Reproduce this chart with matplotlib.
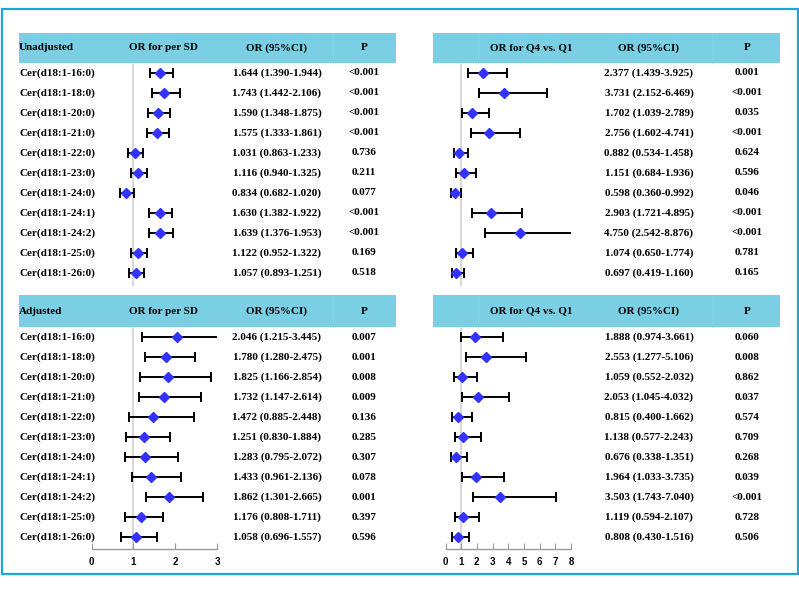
import matplotlib
matplotlib.use('Agg')
import matplotlib.pyplot as plt
import matplotlib.transforms as mtransforms
from matplotlib.patches import Rectangle
import numpy as np

# ---- data ----
names = ['Cer(d18:1-16:0)', 'Cer(d18:1-18:0)', 'Cer(d18:1-20:0)', 'Cer(d18:1-21:0)',
         'Cer(d18:1-22:0)', 'Cer(d18:1-23:0)', 'Cer(d18:1-24:0)', 'Cer(d18:1-24:1)',
         'Cer(d18:1-24:2)', 'Cer(d18:1-25:0)', 'Cer(d18:1-26:0)']

# unadjusted, per SD
un_sd_or = [1.644, 1.743, 1.590, 1.575, 1.031, 1.116, 0.834, 1.630, 1.639, 1.122, 1.057]
un_sd_lo = [1.390, 1.442, 1.348, 1.333, 0.863, 0.940, 0.682, 1.382, 1.376, 0.952, 0.893]
un_sd_hi = [1.944, 2.106, 1.875, 1.861, 1.233, 1.325, 1.020, 1.922, 1.953, 1.322, 1.251]
un_sd_p = ['<0.001', '<0.001', '<0.001', '<0.001', '0.736', '0.211', '0.077',
           '<0.001', '<0.001', '0.169', '0.518']

# unadjusted, Q4 vs Q1
un_q_or = [2.377, 3.731, 1.702, 2.756, 0.882, 1.151, 0.598, 2.903, 4.750, 1.074, 0.697]
un_q_lo = [1.439, 2.152, 1.039, 1.602, 0.534, 0.684, 0.360, 1.721, 2.542, 0.650, 0.419]
un_q_hi = [3.925, 6.469, 2.789, 4.741, 1.458, 1.936, 0.992, 4.895, 8.876, 1.774, 1.160]
un_q_p = ['0.001', '<0.001', '0.035', '<0.001', '0.624', '0.596', '0.046',
          '<0.001', '<0.001', '0.781', '0.165']

# adjusted, per SD
ad_sd_or = [2.046, 1.780, 1.825, 1.732, 1.472, 1.251, 1.283, 1.433, 1.862, 1.176, 1.058]
ad_sd_lo = [1.215, 1.280, 1.166, 1.147, 0.885, 0.830, 0.795, 0.961, 1.301, 0.808, 0.696]
ad_sd_hi = [3.445, 2.475, 2.854, 2.614, 2.448, 1.884, 2.072, 2.136, 2.665, 1.711, 1.557]
ad_sd_p = ['0.007', '0.001', '0.008', '0.009', '0.136', '0.285', '0.307',
           '0.078', '0.001', '0.397', '0.596']

# adjusted, Q4 vs Q1
ad_q_or = [1.888, 2.553, 1.059, 2.053, 0.815, 1.138, 0.676, 1.964, 3.503, 1.119, 0.808]
ad_q_lo = [0.974, 1.277, 0.552, 1.045, 0.400, 0.577, 0.338, 1.033, 1.743, 0.594, 0.430]
ad_q_hi = [3.661, 5.106, 2.032, 4.032, 1.662, 2.243, 1.351, 3.735, 7.040, 2.107, 1.516]
ad_q_p = ['0.060', '0.008', '0.862', '0.037', '0.574', '0.709', '0.268',
          '0.039', '<0.001', '0.728', '0.506']

W, H = 799, 589
HEAD_C = '#7acfe4'
BORDER_C = '#1aa8d8'
DOT_C = '#3333ff'
SERIF = 'Liberation Serif'

fig = plt.figure(figsize=(W / 100, H / 100), dpi=100)


def fx(px):
    return px / W


def fy(py):
    return 1 - py / H


def add_axes(x0, x1, y0, y1):
    return fig.add_axes([fx(x0), fy(y1), fx(x1) - fx(x0), (y1 - y0) / H])


def forest(ax, ors, lo, hi, xmax, top_pad, bottom_pad, show_axis):
    n = len(ors)
    y = np.arange(n)
    ors = np.array(ors)
    err = [ors - np.array(lo), np.array(hi) - ors]
    ax.axvline(1, color='#d0d0d0', lw=1.2, zorder=0)
    ax.errorbar(ors, y, xerr=err, fmt='none', ecolor='black', elinewidth=1.4,
                capsize=3.3, capthick=1.4, zorder=2)
    ax.plot(ors, y, 'D', color=DOT_C, ms=4.8, zorder=3)
    ax.set_xlim(0, xmax)
    ax.set_ylim(n - 1 + bottom_pad, -top_pad)
    ax.set_yticks([])
    for s in ['top', 'right', 'left']:
        ax.spines[s].set_visible(False)
    ax.patch.set_alpha(0)
    if show_axis:
        ax.spines['bottom'].set_color('#9a9a9a')
        ax.spines['bottom'].set_linewidth(1.0)
        ax.set_xticks(range(xmax + 1))
        ax.tick_params(axis='x', direction='in', length=4, color='#9a9a9a',
                       pad=6, labelsize=7)
        for lab in ax.get_xticklabels():
            lab.set_fontweight('bold')
            lab.set_family('Liberation Sans')
    else:
        ax.spines['bottom'].set_visible(False)
        ax.set_xticks([])


def table(ax, or_vals, lo, hi, pvals, x_or, x_p, x_name=None):
    tr = mtransforms.blended_transform_factory(fig.transFigure, ax.transData)
    for i in range(len(or_vals)):
        if x_name is not None:
            ax.text(fx(x_name), i, names[i], transform=tr, ha='left', va='center',
                    family=SERIF, weight='bold', fontsize=8)
        ax.text(fx(x_or), i, '%.3f (%.3f-%.3f)' % (or_vals[i], lo[i], hi[i]),
                transform=tr, ha='center', va='center', family=SERIF,
                weight='bold', fontsize=8)
        ax.text(fx(x_p), i, pvals[i], transform=tr, ha='center', va='center',
                family=SERIF, weight='bold', fontsize=8)


def header(x0, x1, y0, y1, items, dividers):
    fig.patches.append(Rectangle((fx(x0), fy(y1)), fx(x1) - fx(x0), (y1 - y0) / H,
                                 transform=fig.transFigure, facecolor=HEAD_C,
                                 edgecolor='none', zorder=0))
    for d in dividers:
        fig.lines.append(plt.Line2D([fx(d), fx(d)], [fy(y1), fy(y0)],
                                    transform=fig.transFigure, color='#84d3e7',
                                    lw=0.6))
    yc = fy((y0 + y1) / 2)
    for txt, px, ha in items:
        fig.text(fx(px), yc, txt, ha=ha, va='center', family=SERIF,
                 weight='bold', fontsize=8)


# headers
header(19, 396, 33, 63, [('Unadjusted', 19, 'left'), ('OR for per SD', 163, 'center'),
                         ('OR (95%CI)', 277, 'center'), ('P', 364, 'center')], [333])
header(433, 780, 33, 63, [('OR for Q4 vs. Q1', 531, 'center'),
                          ('OR (95%CI)', 649, 'center'), ('P', 747, 'center')], [478, 712])
header(19, 396, 295, 327, [('Adjusted', 19, 'left'), ('OR for per SD', 163, 'center'),
                           ('OR (95%CI)', 277, 'center'), ('P', 364, 'center')], [333])
header(433, 780, 295, 327, [('OR for Q4 vs. Q1', 531, 'center'),
                            ('OR (95%CI)', 649, 'center'), ('P', 747, 'center')], [478, 712])

# forest panels
ax_tl = add_axes(91.5, 217, 63, 286)
forest(ax_tl, un_sd_or, un_sd_lo, un_sd_hi, 3, 0.5, 0.65, False)
table(ax_tl, un_sd_or, un_sd_lo, un_sd_hi, un_sd_p, 277, 364, x_name=19)

ax_tr = add_axes(445.5, 571, 63, 286)
forest(ax_tr, un_q_or, un_q_lo, un_q_hi, 8, 0.5, 0.65, False)
table(ax_tr, un_q_or, un_q_lo, un_q_hi, un_q_p, 649, 747)

ax_bl = add_axes(91.5, 217, 327, 549)
forest(ax_bl, ad_sd_or, ad_sd_lo, ad_sd_hi, 3, 0.5, 0.6, True)
table(ax_bl, ad_sd_or, ad_sd_lo, ad_sd_hi, ad_sd_p, 277, 364, x_name=19)

ax_br = add_axes(445.5, 571, 327, 549)
forest(ax_br, ad_q_or, ad_q_lo, ad_q_hi, 8, 0.5, 0.6, True)
table(ax_br, ad_q_or, ad_q_lo, ad_q_hi, ad_q_p, 649, 747)

# outer frame
fig.patches.append(Rectangle((fx(2), fy(574)), fx(798) - fx(2), (574 - 9) / H,
                             transform=fig.transFigure, facecolor='none',
                             edgecolor=BORDER_C, lw=1.6, zorder=5))

fig.savefig('out.png', dpi=100)
